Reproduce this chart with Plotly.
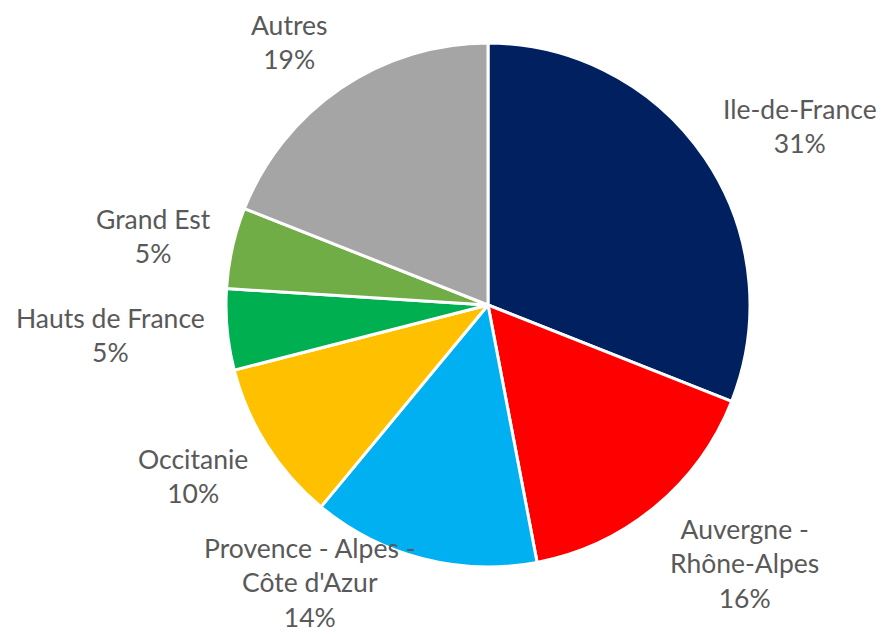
import math
import plotly.graph_objects as go

# ---- data ----
regions = ["Ile-de-France", "Auvergne - Rhône-Alpes", "Provence - Alpes - Côte d'Azur",
           "Occitanie", "Hauts de France", "Grand Est", "Autres"]
display_labels = ["Ile-de-France", "Auvergne -<br>Rhône-Alpes", "Provence - Alpes -<br>Côte d'Azur",
                  "Occitanie", "Hauts de France", "Grand Est", "Autres"]
shares = [31, 16, 14, 10, 5, 5, 19]
colors = ["#002060", "#FF0000", "#00B0F0", "#FFC000", "#00B050", "#70AD47", "#A5A5A5"]

# ---- layout geometry (screen pixels; page body adds an 8px offset) ----
OFF = 8
SW, SH = 887, 634
W, H = SW - OFF, SH - OFF
SCX, SCY, R = 488, 305, 262
FS = 26.5
LINE_H = 1.3 * FS
GX = 20      # horizontal gap between pie edge and label
GY = 22      # extra vertical push of label centre

CX, CY = SCX - OFF, SCY - OFF

fig = go.Figure(go.Pie(
    labels=regions,
    values=shares,
    sort=False,
    direction="clockwise",
    rotation=0,
    marker=dict(colors=colors, line=dict(color="white", width=3)),
    textinfo="none",
    hoverinfo="label+percent",
    showlegend=False,
    domain=dict(x=[(CX - R) / W, (CX + R) / W], y=[(H - CY - R) / H, (H - CY + R) / H]),
))

total = sum(shares)
cum = 0
annotations = []
for lab, v in zip(display_labels, shares):
    mid = (cum + v / 2) / total * 2 * math.pi
    cum += v
    s, c = math.sin(mid), math.cos(mid)
    ex = CX + R * s
    ey = CY - R * c
    text = f"{lab}<br>{round(v / total * 100)}%"
    nlines = text.count("<br>") + 1
    h = nlines * LINE_H
    if s > 0:
        xanchor, px = "left", ex + GX * abs(s)
    else:
        xanchor, px = "right", ex - GX * abs(s)
    py = ey - c * (h / 2 + GY)
    py = min(py, H - h / 2)
    py = max(py, h / 2)
    annotations.append(dict(
        x=px / W, y=1 - py / H, xref="paper", yref="paper",
        text=text, showarrow=False, xanchor=xanchor, yanchor="middle",
        align="center", font=dict(family="Lato, Carlito, sans-serif", size=FS, color="#595959"),
    ))

fig.update_layout(
    width=W, height=H,
    margin=dict(l=0, r=0, t=0, b=0),
    paper_bgcolor="white", plot_bgcolor="white",
    annotations=annotations,
)

fig.write_html("out.html")
